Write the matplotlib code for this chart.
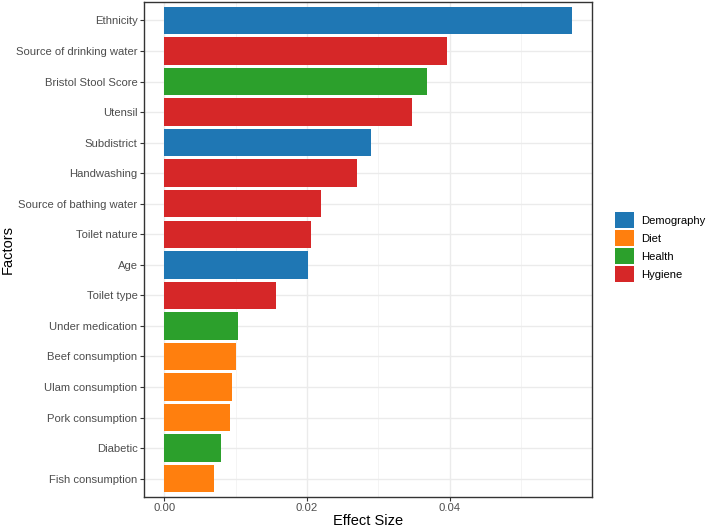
import numpy as np
import matplotlib.pyplot as plt
from matplotlib.patches import Patch

plt.rcParams['font.family'] = ['Liberation Sans', 'DejaVu Sans']

# data (top to bottom)
factors = ["Ethnicity", "Source of drinking water", "Bristol Stool Score", "Utensil",
           "Subdistrict", "Handwashing", "Source of bathing water", "Toilet nature",
           "Age", "Toilet type", "Under medication", "Beef consumption",
           "Ulam consumption", "Pork consumption", "Diabetic", "Fish consumption"]
effect = [0.0571, 0.0396, 0.0369, 0.0347, 0.0290, 0.0270, 0.0219, 0.0205,
          0.0202, 0.0157, 0.0103, 0.0100, 0.00945, 0.00917, 0.0079, 0.00703]
groups = ["Demography", "Hygiene", "Health", "Hygiene", "Demography", "Hygiene",
          "Hygiene", "Hygiene", "Demography", "Hygiene", "Health", "Diet",
          "Diet", "Diet", "Health", "Diet"]
group_names = ["Demography", "Diet", "Health", "Hygiene"]
palette = {"Demography": "#1f77b4", "Diet": "#ff7f0e", "Health": "#2ca02c", "Hygiene": "#d62728"}

fig = plt.figure(figsize=(7.08, 5.31), dpi=100)
ax = fig.add_axes([0.2034, 0.064, 0.6326, 0.932])

n = len(factors)
ypos = np.arange(n)[::-1]
ax.barh(ypos, effect, height=0.9, color=[palette[g] for g in groups], zorder=3)

xmax = max(effect)
ax.set_xlim(-0.05 * xmax, 1.05 * xmax)
ax.set_ylim(-0.6, n - 0.4)
ax.set_yticks(ypos)
ax.set_yticklabels(factors)
ax.set_xticks([0.0, 0.02, 0.04])
ax.set_xticklabels(["0.00", "0.02", "0.04"])
ax.set_xticks([0.01, 0.03, 0.05], minor=True)

ax.grid(True, which="major", color="#ebebeb", linewidth=1.0, zorder=0)
ax.grid(True, which="minor", axis="x", color="#f2f2f2", linewidth=0.6, zorder=0)
ax.set_axisbelow(True)
ax.tick_params(axis="both", which="major", colors="#333333", labelcolor="#4d4d4d",
               labelsize=8.1, length=2.6, width=0.8, pad=2)
ax.tick_params(axis="x", which="minor", length=0)
for s in ax.spines.values():
    s.set_color("#333333")
    s.set_linewidth(1.0)

ax.set_xlabel("Effect Size", fontsize=10.5, color="black", va="center")
ax.set_ylabel("Factors", fontsize=10.5, color="black", va="center")
ax.xaxis.set_label_coords(0.5, -0.049)
ax.yaxis.set_label_coords(-0.305, 0.5)

handles = [Patch(facecolor=palette[g], edgecolor="none") for g in group_names]
fig.legend(handles, group_names, loc="center left", bbox_to_anchor=(0.862, 0.535),
           frameon=False, fontsize=8.1, handlelength=1.75, handleheight=1.75,
           handletextpad=0.6, labelspacing=0.22, borderaxespad=0)

plt.savefig("out.png", dpi=100)
